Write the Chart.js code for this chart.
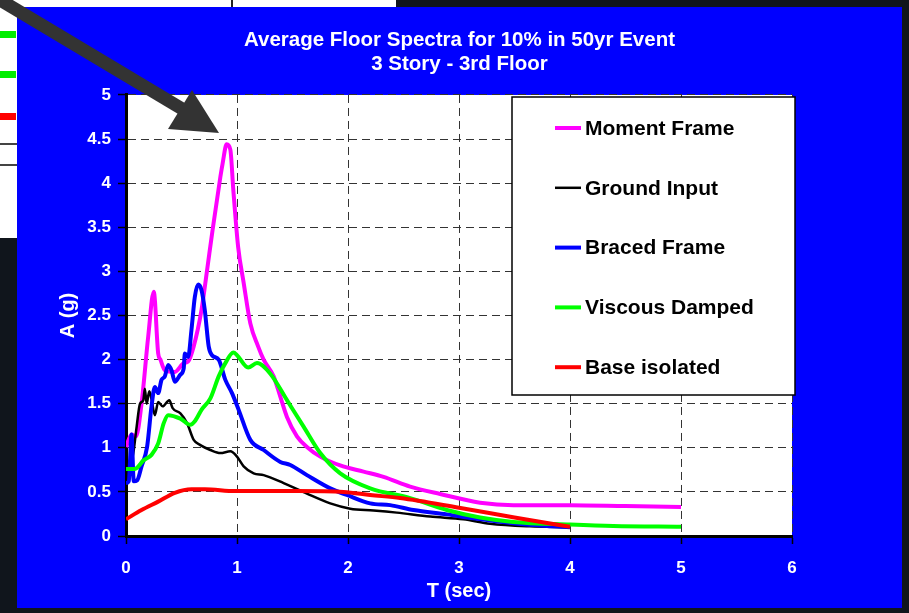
<!DOCTYPE html>
<html><head><meta charset="utf-8">
<script src="https://cdn.jsdelivr.net/npm/chart.js@4.4.1/dist/chart.umd.min.js"></script>
<style>
html,body{margin:0;padding:0;background:#10151c;overflow:hidden;}
#wrap{position:absolute;left:0;top:0;width:909px;height:613px;}
</style></head><body>
<div id="wrap"><canvas id="c" width="909" height="613"></canvas></div>
<script>
const titleLines = ['Average Floor Spectra for 10% in 50yr Event', '3 Story - 3rd Floor'];
const xTitle = 'T (sec)';
const yTitle = 'A (g)';
const xTickLabels = ['0','1','2','3','4','5','6'];
const yTickLabels = ['0','0.5','1','1.5','2','2.5','3','3.5','4','4.5','5'];
const seriesNames = ['Moment Frame','Ground Input','Braced Frame','Viscous Damped','Base isolated'];

const momentT = [0,0.05,0.09,0.14,0.2,0.25,0.29,0.31,0.35,0.44,0.52,0.56,0.61,0.68,0.73,0.78,0.85,0.87,0.907,0.94,0.967,1.01,1.06,1.12,1.19,1.24,1.33,1.39,1.45,1.54,1.63,1.75,1.93,2.14,2.32,2.56,2.83,3.19,3.49,4.0,4.5,5.0];
const momentA = [1.01,1.15,1.13,1.5,2.26,2.77,2.07,2.0,1.88,1.86,1.96,1.98,2.15,2.56,3.01,3.47,4.07,4.22,4.44,4.38,3.92,3.28,2.87,2.41,2.15,2.0,1.81,1.58,1.35,1.13,1.01,0.9,0.8,0.73,0.67,0.56,0.476,0.378,0.35,0.35,0.34,0.33];

const groundT = [0.05,0.066,0.096,0.126,0.156,0.17,0.186,0.21,0.23,0.26,0.29,0.33,0.39,0.42,0.49,0.55,0.61,0.67,0.76,0.85,0.94,1.0,1.06,1.15,1.24,1.42,1.63,1.84,2.02,2.23,2.44,2.74,3.04,3.28,3.64,3.97];
const groundA = [0.85,0.94,1.24,1.5,1.54,1.67,1.5,1.64,1.55,1.37,1.52,1.47,1.54,1.45,1.39,1.28,1.09,1.03,0.975,0.94,0.96,0.9,0.79,0.71,0.69,0.6,0.48,0.37,0.31,0.29,0.265,0.22,0.19,0.14,0.11,0.1];

const bracedT = [0,0.025,0.05,0.07,0.1,0.14,0.19,0.23,0.26,0.29,0.32,0.35,0.38,0.41,0.44,0.49,0.52,0.53,0.56,0.59,0.62,0.65,0.68,0.71,0.745,0.775,0.835,0.895,0.955,1.015,1.12,1.24,1.39,1.48,1.63,1.84,1.99,2.2,2.38,2.59,2.89,3.13,3.49,3.79,4.0];
const bracedA = [0.6,0.62,1.15,0.62,0.63,0.79,1.01,1.47,1.69,1.62,1.77,1.81,1.94,1.88,1.75,1.83,1.9,2.07,2.03,2.34,2.71,2.85,2.79,2.56,2.15,2.05,2.0,1.77,1.62,1.43,1.09,0.975,0.84,0.805,0.69,0.54,0.465,0.37,0.35,0.295,0.245,0.2,0.144,0.113,0.1];

const viscousT = [0,0.08,0.16,0.23,0.29,0.34,0.38,0.49,0.58,0.62,0.68,0.76,0.835,0.895,0.967,1.0,1.1,1.18,1.3,1.45,1.6,1.75,1.93,2.2,2.56,2.89,3.19,3.49,4.0,4.39,5.0];
const viscousA = [0.76,0.76,0.86,0.92,1.05,1.28,1.37,1.33,1.26,1.3,1.43,1.56,1.81,1.96,2.08,2.05,1.91,1.96,1.84,1.54,1.24,0.94,0.71,0.54,0.43,0.295,0.21,0.16,0.13,0.113,0.105];

const baseT = [0,0.14,0.29,0.44,0.59,0.71,0.985,1.54,1.96,2.2,2.47,3.0,3.5,4.0];
const baseA = [0.19,0.295,0.39,0.49,0.53,0.53,0.51,0.51,0.5,0.465,0.43,0.32,0.21,0.105];

const seriesColors = ['#ff00ff','#000000','#0000ff','#00ff00','#ff0000'];
const seriesWidths = [4,2.5,4,4,4];
const seriesOrder = [5,4,3,2,1];

const FONT = "'Liberation Sans', Arial, sans-serif";
const pairs = (t,a) => t.map((x,i)=>({x:x,y:a[i]}));
const allT = [momentT, groundT, bracedT, viscousT, baseT];
const allA = [momentA, groundA, bracedA, viscousA, baseA];

const datasets = seriesNames.map((n,i)=>({
  label:n, data:pairs(allT[i],allA[i]),
  borderColor:seriesColors[i], backgroundColor:seriesColors[i],
  borderWidth:seriesWidths[i], pointRadius:0, fill:false,
  cubicInterpolationMode:'monotone', order:seriesOrder[i]
}));

const backdrop = {
  id:'backdrop',
  beforeDraw(chart){
    const ctx = chart.ctx; ctx.save();
    ctx.fillStyle = '#10151c'; ctx.fillRect(0,0,909,613);
    ctx.fillStyle = '#ffffff'; ctx.fillRect(0,0,396,8); ctx.fillRect(0,0,17,238);
    ctx.fillStyle = '#00ee00'; ctx.fillRect(0,31,16,7); ctx.fillRect(0,71,16,7);
    ctx.fillStyle = '#ff0000'; ctx.fillRect(0,113,16,7);
    ctx.fillStyle = '#444'; ctx.fillRect(0,143,17,2); ctx.fillRect(0,164,17,2);
    ctx.fillStyle = '#222'; ctx.fillRect(231,0,2,7);
    ctx.fillStyle = '#0000ff'; ctx.fillRect(17,7,885,601);
    const a = chart.chartArea;
    ctx.fillStyle = '#ffffff'; ctx.fillRect(a.left,a.top,a.right-a.left,a.bottom-a.top);
    ctx.restore();
  },
  afterDraw(chart){
    const ctx = chart.ctx; ctx.save();
    // legend box
    ctx.fillStyle = '#ffffff'; ctx.fillRect(512,97,283,298);
    ctx.strokeStyle = '#000'; ctx.lineWidth = 1.5; ctx.strokeRect(512,97,283,298);
    ctx.font = 'bold 21px ' + FONT; ctx.textBaseline = 'middle'; ctx.textAlign = 'left';
    chart.data.datasets.forEach((d,i)=>{
      const y = 128 + i*59.8;
      ctx.strokeStyle = d.borderColor; ctx.lineWidth = d.borderWidth;
      ctx.beginPath(); ctx.moveTo(555,y); ctx.lineTo(581,y); ctx.stroke();
      ctx.fillStyle = '#000'; ctx.fillText(d.label, 585, y+1);
    });
    // arrow
    ctx.strokeStyle = '#333333'; ctx.fillStyle = '#333333'; ctx.lineWidth = 13; ctx.lineCap='butt';
    ctx.beginPath(); ctx.moveTo(-20,-12); ctx.lineTo(184,110); ctx.stroke();
    ctx.beginPath(); ctx.moveTo(219,133); ctx.lineTo(192,90); ctx.lineTo(168,129); ctx.closePath(); ctx.fill();
    ctx.restore();
  }
};

const gridOpts = {color:'#333', lineWidth:1, tickBorderDash:[], tickColor:'#000', tickLength:8, tickWidth:1.5};
const borderOpts = {color:'#000', width:3, dash:[8,5]};

new Chart(document.getElementById('c'), {
  type:'line',
  data:{datasets:datasets},
  plugins:[backdrop],
  options:{
    responsive:false, animation:false, devicePixelRatio:1,
    layout:{padding:{left:17,right:7,top:7,bottom:5}},
    plugins:{
      legend:{display:false}, tooltip:{enabled:false},
      title:{display:true, text:titleLines, color:'#ffffff',
        font:{family:FONT, size:20.5, weight:'bold', lineHeight:1.17},
        padding:{top:21,bottom:19}}
    },
    scales:{
      x:{type:'linear', min:0, max:6,
        afterFit:s=>{s.height=72;},
        ticks:{stepSize:1, color:'#fff', font:{family:FONT,size:17,weight:'bold'}, padding:14,
          callback:(v,i)=>xTickLabels[i], maxRotation:0},
        grid:gridOpts,
        border:borderOpts,
        title:{display:true, text:xTitle, color:'#fff', font:{family:FONT,size:20,weight:'bold',lineHeight:1.2}, padding:{top:0,bottom:5}}
      },
      y:{type:'linear', min:0, max:5,
        afterFit:s=>{s.width=109;},
        ticks:{stepSize:0.5, color:'#fff', font:{family:FONT,size:17,weight:'bold'}, padding:7,
          callback:(v,i)=>yTickLabels[i]},
        grid:gridOpts,
        border:borderOpts,
        title:{display:true, text:yTitle, color:'#fff', font:{family:FONT,size:20,weight:'bold',lineHeight:1.2}, padding:{top:39,bottom:0}}
      },
      y2:{type:'linear', position:'right', min:0, max:1,
        afterFit:s=>{s.width=110;},
        ticks:{display:false}, grid:{display:false}, border:{display:false}, title:{display:false}
      }
    }
  }
});
</script>
</body></html>
